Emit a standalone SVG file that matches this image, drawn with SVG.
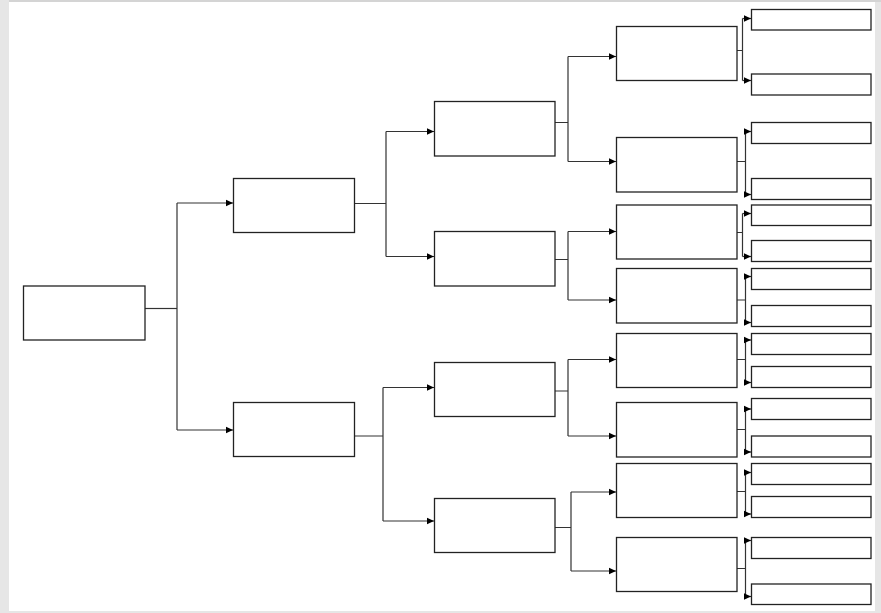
<svg xmlns="http://www.w3.org/2000/svg" width="881" height="613" viewBox="0 0 881 613">
<style>
.bx{fill:#fff;stroke:#222;stroke-width:1.3}
.cn{fill:none;stroke:#333;stroke-width:1.2}
.ar{marker-end:url(#ah)}
</style>
<defs>
<marker id="ah" markerUnits="userSpaceOnUse" markerWidth="8" markerHeight="8" refX="7" refY="4" orient="auto">
<path d="M0,0.8 L7,4 L0,7.2 Z" fill="#000"/>
</marker>
</defs>
<rect x="0" y="0" width="881" height="613" fill="#e6e6e6"/>
<rect x="9" y="2" width="866" height="609" fill="#fff"/>
<line x1="9" y1="1" x2="881" y2="1" stroke="#d4d4d4" stroke-width="2"/>

<g id="connectors">
<path class="cn" d="M145,308.5H177"/>
<path class="cn" d="M177,203V430"/>
<path class="cn ar" d="M177,203H233"/>
<path class="cn ar" d="M177,430H233"/>

<path class="cn" d="M355,203.5H386M386,131.5V256.5"/>
<path class="cn ar" d="M386,131.5H434"/>
<path class="cn ar" d="M386,256.5H434"/>
<path class="cn" d="M355,436H383M383,387.5V521"/>
<path class="cn ar" d="M383,387.5H434"/>
<path class="cn ar" d="M383,521H434"/>

<path class="cn" d="M555,122.5H568M568,56.5V161.5"/>
<path class="cn ar" d="M568,56.5H616"/>
<path class="cn ar" d="M568,161.5H616"/>
<path class="cn" d="M555,259.5H568M568,231.5V300"/>
<path class="cn ar" d="M568,231.5H616"/>
<path class="cn ar" d="M568,300H616"/>
<path class="cn" d="M555,391H568M568,359.5V436"/>
<path class="cn ar" d="M568,359.5H616"/>
<path class="cn ar" d="M568,436H616"/>
<path class="cn" d="M555,527.5H571M571,492V571"/>
<path class="cn ar" d="M571,492H616"/>
<path class="cn ar" d="M571,571H616"/>

<path class="cn" d="M737,50.5H742.5M742.5,18.5V80.5"/>
<path class="cn ar" d="M742.5,18.5H751"/>
<path class="cn ar" d="M742.5,80.5H751"/>
<path class="cn" d="M737,161.5H745.5M745.5,131.5V194.5"/>
<path class="cn ar" d="M745.5,131.5H751"/>
<path class="cn ar" d="M745.5,194.5H751"/>
<path class="cn" d="M737,232.5H742.5M742.5,213.5V256.5"/>
<path class="cn ar" d="M742.5,213.5H751"/>
<path class="cn ar" d="M742.5,256.5H751"/>
<path class="cn" d="M737,300H745.5M745.5,276.5V322.5"/>
<path class="cn ar" d="M745.5,276.5H751"/>
<path class="cn ar" d="M745.5,322.5H751"/>
<path class="cn" d="M737,359.5H745.5M745.5,340V382.5"/>
<path class="cn ar" d="M745.5,340H751"/>
<path class="cn ar" d="M745.5,382.5H751"/>
<path class="cn" d="M737,429.5H745.5M745.5,409V452"/>
<path class="cn ar" d="M745.5,409H751"/>
<path class="cn ar" d="M745.5,452H751"/>
<path class="cn" d="M737,491.5H745.5M745.5,472.5V514"/>
<path class="cn ar" d="M745.5,472.5H751"/>
<path class="cn ar" d="M745.5,514H751"/>
<path class="cn" d="M737,568.5H745.5M745.5,540.5V596.5"/>
<path class="cn ar" d="M745.5,540.5H751"/>
<path class="cn ar" d="M745.5,596.5H751"/>
</g>

<g id="root"><rect class="bx" x="23.5" y="286" width="121.5" height="54"/></g>
<g id="n1"><rect class="bx" x="233.5" y="178.5" width="121" height="54"/></g>
<g id="n2"><rect class="bx" x="233.5" y="402.5" width="121" height="54"/></g>
<g id="n1a"><rect class="bx" x="434.5" y="101.5" width="120.5" height="54.5"/></g>
<g id="n1b"><rect class="bx" x="434.5" y="231.5" width="120.5" height="54.5"/></g>
<g id="n2a"><rect class="bx" x="434.5" y="362.5" width="120.5" height="54"/></g>
<g id="n2b"><rect class="bx" x="434.5" y="498.5" width="120.5" height="54"/></g>
<g id="m1"><rect class="bx" x="616.5" y="26.5" width="120.5" height="54"/></g>
<g id="m2"><rect class="bx" x="616.5" y="137.5" width="120.5" height="54.5"/></g>
<g id="m3"><rect class="bx" x="616.5" y="205" width="120.5" height="54"/></g>
<g id="m4"><rect class="bx" x="616.5" y="268.5" width="120.5" height="54.5"/></g>
<g id="m5"><rect class="bx" x="616.5" y="333.5" width="120.5" height="54"/></g>
<g id="m6"><rect class="bx" x="616.5" y="402.5" width="120.5" height="54.5"/></g>
<g id="m7"><rect class="bx" x="616.5" y="463.5" width="120.5" height="54"/></g>
<g id="m8"><rect class="bx" x="616.5" y="537.5" width="120.5" height="54"/></g>
<g id="l1"><rect class="bx" x="751.5" y="9.5" width="119.5" height="20.5"/></g>
<g id="l2"><rect class="bx" x="751.5" y="74" width="119.5" height="21"/></g>
<g id="l3"><rect class="bx" x="751.5" y="122.5" width="119.5" height="21"/></g>
<g id="l4"><rect class="bx" x="751.5" y="178.5" width="119.5" height="21"/></g>
<g id="l5"><rect class="bx" x="751.5" y="205" width="119.5" height="20.5"/></g>
<g id="l6"><rect class="bx" x="751.5" y="240.5" width="119.5" height="21"/></g>
<g id="l7"><rect class="bx" x="751.5" y="268.5" width="119.5" height="21"/></g>
<g id="l8"><rect class="bx" x="751.5" y="305.5" width="119.5" height="21"/></g>
<g id="l9"><rect class="bx" x="751.5" y="333.5" width="119.5" height="21"/></g>
<g id="l10"><rect class="bx" x="751.5" y="366.5" width="119.5" height="21"/></g>
<g id="l11"><rect class="bx" x="751.5" y="398.5" width="119.5" height="21"/></g>
<g id="l12"><rect class="bx" x="751.5" y="436" width="119.5" height="21"/></g>
<g id="l13"><rect class="bx" x="751.5" y="463.5" width="119.5" height="21"/></g>
<g id="l14"><rect class="bx" x="751.5" y="496.5" width="119.5" height="21"/></g>
<g id="l15"><rect class="bx" x="751.5" y="537.5" width="119.5" height="21"/></g>
<g id="l16"><rect class="bx" x="751.5" y="584" width="119.5" height="20.5"/></g>
</svg>
